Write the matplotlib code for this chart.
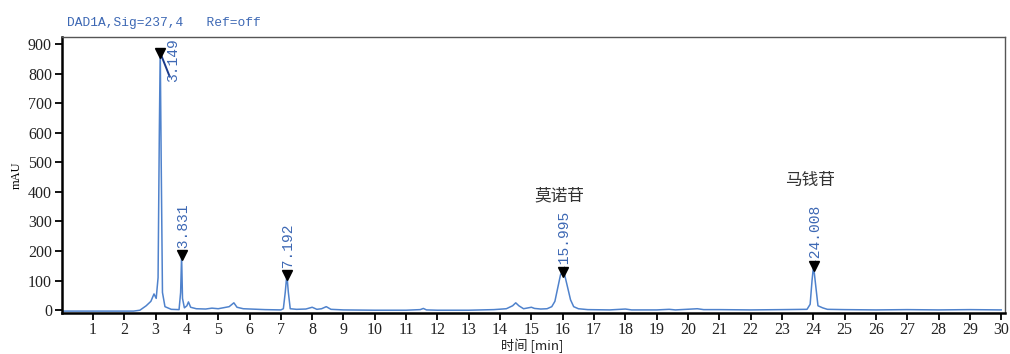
"""
DAD chromatogram (237 nm) with annotated peaks.
"""
import matplotlib.pyplot as plt

# detector trace, read point by point (min, mAU)
time_min = [0.0, 2.3, 2.5, 2.7, 2.85, 2.95, 3.02, 3.08, 3.12, 3.149, 3.18, 3.22, 3.3, 3.5,
            3.75, 3.80, 3.831, 3.86, 3.92, 4.0, 4.05, 4.12, 4.3, 4.6, 4.8, 5.0, 5.2, 5.35,
            5.5, 5.6, 5.8, 6.5, 7.0, 7.08, 7.14, 7.192, 7.24, 7.3, 7.5, 7.8, 8.0, 8.15,
            8.3, 8.45, 8.6, 9.0, 10.0, 11.0, 11.45, 11.55, 11.65, 12.0, 13.0, 13.8, 14.2,
            14.4, 14.5, 14.6, 14.75, 14.9, 15.0, 15.1, 15.3, 15.5, 15.65, 15.75, 15.85,
            15.93, 15.995, 16.06, 16.15, 16.25, 16.35, 16.5, 16.8, 17.5, 18.0, 18.2, 19.0,
            19.4, 19.6, 20.3, 20.5, 21.0, 22.0, 23.0, 23.8, 23.9, 23.96, 24.008, 24.06,
            24.15, 24.3, 24.45, 25.0, 26.0, 27.0, 28.0, 29.0, 30.0]
signal_mau = [-3, -3, 0, 15, 30, 55, 40, 110, 600, 880, 500, 60, 12, 3,
              2, 60, 185, 40, 8, 15, 28, 10, 5, 4, 7, 5, 9, 12,
              25, 10, 5, 2, 1, 5, 60, 120, 60, 5, 3, 4, 10, 3,
              5, 12, 3, 1, 0, 0, 2, 6, 1, 0, 0, 2, 5,
              15, 25, 15, 5, 8, 10, 6, 4, 5, 12, 30, 80,
              120, 130, 120, 80, 35, 12, 5, 2, 1, 4, 1, 1,
              3, 1, 5, 2, 2, 1, 2, 3, 20, 100, 150, 100,
              15, 8, 3, 2, 1, 2, 1, 2, 1]

# integrated peaks: retention time and apex height
peak_rt = [3.149, 3.831, 7.192, 15.995, 24.008]
peak_height = [870, 185, 118, 130, 150]
peak_labels = ["3.149", "3.831", "7.192", "15.995", "24.008"]

# identified compounds and where their names sit (mAU)
compound_names = ["莫诺苷", "马钱苷"]
compound_rt = [15.995, 24.008]
compound_y = [387, 438]

LINE = "#4f82cc"
TXT = "#3d68b4"
CJK = ["Noto Sans CJK SC", "DejaVu Sans"]

fig = plt.figure(figsize=(10.1, 3.54), dpi=100)
ax = fig.add_axes([0.061, 0.117, 0.934, 0.779])

ax.plot(time_min, signal_mau, color=LINE, lw=1.1)

for rt, h, lab in zip(peak_rt, peak_height, peak_labels):
    ax.plot(rt, h, marker="v", color="black", ms=7, zorder=5)
    if lab == "3.149":
        # label pushed aside with a leader line, runs off the top
        ax.plot([rt, rt + 0.3], [h, h - 80], color="#1a3a8a", lw=1.4)
        ax.text(rt + 0.4, h - 100, lab, rotation=90, color=TXT, fontsize=10.5,
                family="Liberation Mono", ha="center", va="bottom", clip_on=True)
    else:
        ax.text(rt, h + 6, "-" + lab, rotation=90, color=TXT, fontsize=10.5,
                family="Liberation Mono", ha="center", va="bottom")

for name, rt, y in zip(compound_names, compound_rt, compound_y):
    ax.text(rt - 0.1, y, name, color="#333333", fontsize=12, family=CJK,
            ha="center", va="center")

ax.set_xlim(0.0, 30.12)
ax.set_ylim(-8, 924)
ax.set_xticks(range(1, 31))
ax.set_yticks(range(0, 1000, 100))
ax.tick_params(direction="out", length=5, width=1.3, labelsize=11.5, pad=2)
for t in ax.get_xticklabels() + ax.get_yticklabels():
    t.set_family("Liberation Serif")
    t.set_color("#222222")
for s in ("left", "bottom"):
    ax.spines[s].set_linewidth(1.8)
for s in ("top", "right"):
    ax.spines[s].set_linewidth(1.0)
    ax.spines[s].set_color("#555555")

# x label sits tight under the tick labels so it stays inside the canvas
fig.text(0.527, 0.002, "时间 [min]", family=CJK, fontsize=9.5, color="#222222",
         ha="center", va="bottom")
ax.set_ylabel("mAU", family="Liberation Serif", fontsize=9, labelpad=4)
ax.text(0.006, 1.03, "DAD1A,Sig=237,4   Ref=off", transform=ax.transAxes,
        color=TXT, fontsize=9.3, family="Liberation Mono", va="bottom")

fig.savefig("out.png", dpi=100)
